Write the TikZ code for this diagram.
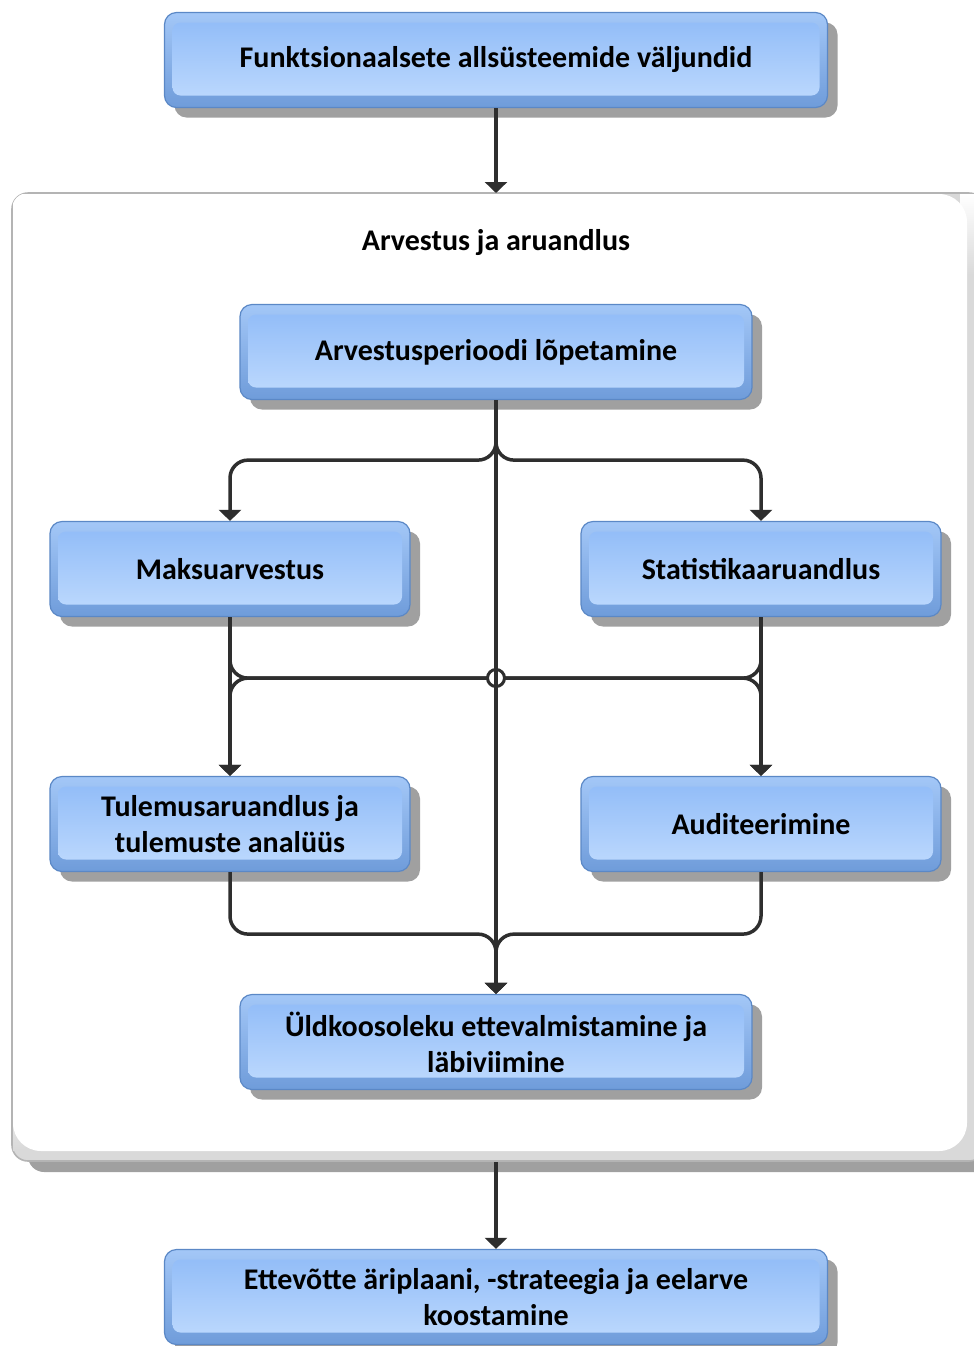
\documentclass[tikz,border=0pt]{standalone}
\RequirePackage{fontspec}
\setmainfont{Carlito}
\RequirePackage{tikz}
\usetikzlibrary{arrows.meta}
\usetikzlibrary{shadows}

\definecolor{rand}{HTML}{5B88C6}
\definecolor{kantylal}{HTML}{A3C7F7}
\definecolor{kantall}{HTML}{6F9CDA}
\definecolor{sisuylal}{HTML}{8EBAF7}
\definecolor{sisuall}{HTML}{C0DBFE}
\definecolor{vari}{HTML}{A0A0A0}
\definecolor{joon}{HTML}{2E2E2E}
\definecolor{raam}{HTML}{B4B4B4}
\definecolor{serv}{HTML}{D9D9D9}

\tikzset{
    plokk/.style={draw=rand, line width=0.6pt, rounded corners=6pt,
        top color=kantylal, bottom color=kantall,
        drop shadow={shadow xshift=5pt, shadow yshift=-5pt, fill=vari, opacity=1},
        path picture={\shade[top color=sisuylal, bottom color=sisuall, rounded corners=4pt]
            ([shift={(4pt,-5pt)}]path picture bounding box.north west) rectangle
            ([shift={(-4pt,6pt)}]path picture bounding box.south east);},
        align=center, inner sep=0pt, minimum height=47.5pt,
        font=\bfseries\fontsize{15}{18}\selectfont},
    lai/.style={plokk, minimum width=331.5pt},
    kesk/.style={plokk, minimum width=256pt},
    kylg/.style={plokk, minimum width=180pt},
    yhendus/.style={draw=joon, line width=1.75pt, rounded corners=9pt},
    nool/.style={yhendus, -{Triangle[width=11pt,length=5.5pt]}},
}

\begin{document}
\begin{tikzpicture}[x=0.5pt, y=-0.5pt]
                \useasboundingbox (0,0) rectangle (974,1346);

                % raam
                \fill[vari, rounded corners=8pt] (28,205) rectangle (990,1172);
                \draw[raam, fill=serv, line width=0.8pt, rounded corners=8pt] (12,193) rectangle (985,1161);
                \begin{scope}
                    \clip[rounded corners=8pt] (12,193) rectangle (985,1161);
                    \fill[white] (13,194) rectangle (40,1060);
                    \shade[top color=white, bottom color=serv] (13,1060) rectangle (25,1150);
                    \shade[top color=white, bottom color=serv] (960,194) rectangle (984,275);
                    \fill[white, rounded corners=14pt] (13,194) rectangle (967,1151);
                \end{scope}
                \coordinate (raamyla) at (496,193);
                \coordinate (raamall) at (496,1162);

                \node[font=\bfseries\fontsize{15}{18}\selectfont] (pealkiri) at (496,242) {Arvestus ja aruandlus};

                \node[lai] (valjund) at (496,60) {Funktsionaalsete allsüsteemide väljundid};
                \node[kesk] (lopetamine) at (496,352) {Arvestusperioodi lõpetamine};
                \node[kylg] (maks) at (230,569) {Maksuarvestus};
                \node[kylg] (stat) at (761,569) {Statistikaaruandlus};
                \node[kylg] (tulemus) at (230,824) {Tulemusaruandlus ja\\tulemuste analüüs};
                \node[kylg] (audit) at (761,824) {Auditeerimine};
                \node[kesk] (yldkoos) at (496,1042) {Üldkoosoleku ettevalmistamine ja\\läbiviimine};
                \node[lai] (eelarve) at (496,1297) {Ettevõtte äriplaani, -strateegia ja eelarve\\koostamine};

                \draw[nool] (valjund) -- (raamyla);
                \draw[nool] (raamall) -- (eelarve);

                % hargnemine
                \draw[nool] (lopetamine.south) -- ++(0,60) -| (maks.north);
                \draw[nool] (lopetamine.south) -- ++(0,60) -| (stat.north);

                % ristumine
                \draw[nool] (maks.south) -- (tulemus.north);
                \draw[nool] (stat.south) -- (audit.north);
                \draw[nool] (maks.south) -- ++(0,61) -| (audit.north);
                \draw[nool] (stat.south) -- ++(0,61) -| (tulemus.north);
                \node[circle, draw=joon, fill=white, line width=1.5pt, minimum size=8.5pt, inner sep=0pt] (hype) at (496,678) {};

                % kokku
                \draw[nool] (tulemus.south) -- ++(0,62) -| (yldkoos.north);
                \draw[nool] (audit.south) -- ++(0,62) -| (yldkoos.north);
                \draw[nool] (lopetamine.south) -- (yldkoos.north);
            \end{tikzpicture}
\end{document}
